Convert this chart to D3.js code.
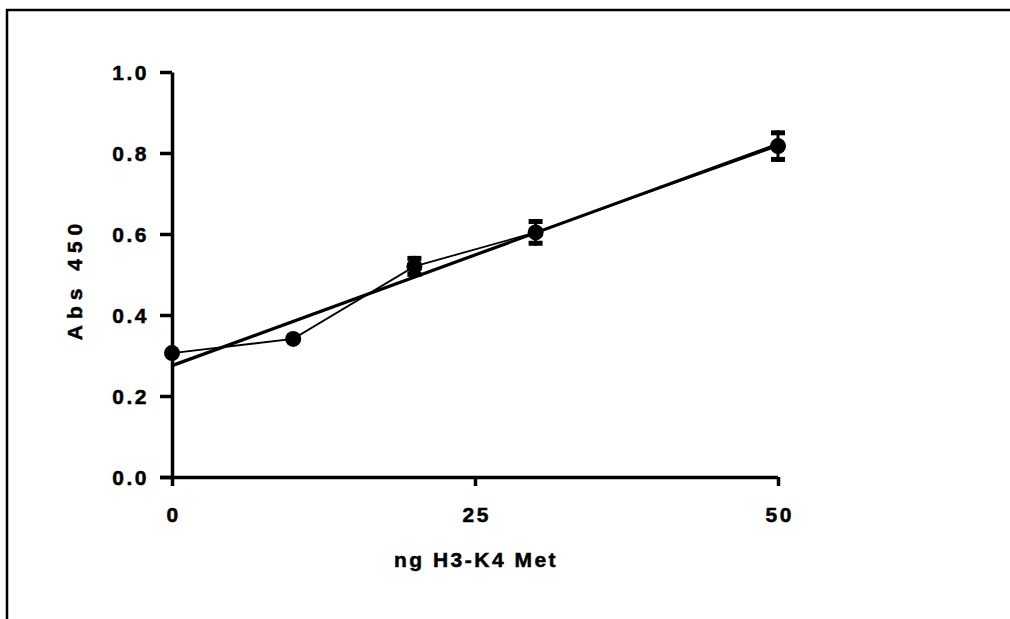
<!DOCTYPE html>
<html><head><meta charset="utf-8">
<script src="https://cdn.jsdelivr.net/npm/d3@7"></script>
<style>
body{margin:0;background:#fff;}
text{font-family:"Liberation Sans",Arial,sans-serif;font-weight:bold;fill:#000;stroke:#000;stroke-width:0.5px;}
</style></head>
<body>
<svg id="c" width="1010" height="619"></svg>
<script>
const xValues = [0, 10, 20, 30, 50];
const yValues = [0.306, 0.341, 0.52, 0.604, 0.817];
const yErrors = [0, 0, 0.026, 0.033, 0.039];
const xTicks = [0, 25, 50];
const yTicks = [0.0, 0.2, 0.4, 0.6, 0.8, 1.0];
const fitIntercept = 0.275;
const fitSlope = 0.01093;
const xTitle = "ng H3-K4 Met";
const yTitle = "Abs 450";

const svg = d3.select("#c");
// frame (top and left)
svg.append("path").attr("d","M7,619 V10 H1010").attr("fill","none").attr("stroke","#000").attr("stroke-width",2.5);

const x = d3.scaleLinear().domain([0,50]).range([172,778]);
const y = d3.scaleLinear().domain([0,1]).range([477,72]);

// y axis
const ya = svg.append("g").attr("transform","translate(172,0)")
  .call(d3.axisLeft(y).tickValues(yTicks).tickFormat(d3.format(".1f")).tickSize(12).tickPadding(11).tickSizeOuter(0));
ya.select(".domain").attr("stroke-width",3.5);
ya.selectAll(".tick line").attr("stroke-width",3.5);
ya.selectAll(".tick text").style("font-size","21px").style("letter-spacing","2.5px").attr("dy","0.36em");

// x axis
const xa = svg.append("g").attr("transform","translate(0,477)")
  .call(d3.axisBottom(x).tickValues(xTicks).tickSize(9).tickPadding(21).tickSizeOuter(0));
xa.select(".domain").attr("stroke-width",3.5).attr("d","M160,0.5H"+x(50));
xa.selectAll(".tick line").attr("stroke-width",3.5);
xa.selectAll(".tick text").style("font-size","21px").style("letter-spacing","2.5px").attr("dx","1.2px");

// titles
svg.append("text").attr("x",476).attr("y",567).attr("text-anchor","middle")
  .style("font-size","21px").style("letter-spacing","2.5px").text(xTitle);
svg.append("text").attr("transform","translate(82,279) rotate(-90)").attr("text-anchor","middle")
  .style("font-size","21px").style("letter-spacing","6px").text(yTitle);

// connecting line
const pts = xValues.map((d,i)=>[d,yValues[i],yErrors[i]]);
svg.append("path").datum(pts)
  .attr("d",d3.line().x(d=>x(d[0])).y(d=>y(d[1])))
  .attr("fill","none").attr("stroke","#000").attr("stroke-width",1.8);

// fit line
svg.append("line")
  .attr("x1",x(0)).attr("y1",y(fitIntercept))
  .attr("x2",x(50)).attr("y2",y(fitIntercept+fitSlope*50))
  .attr("stroke","#000").attr("stroke-width",3.2);

// error bars
const eb = svg.append("g");
pts.filter(d=>d[2]>0).forEach(d=>{
  const cx=x(d[0]);
  eb.append("line").attr("x1",cx).attr("x2",cx).attr("y1",y(d[1]+d[2])).attr("y2",y(d[1]-d[2])).attr("stroke","#000").attr("stroke-width",3);
  [d[1]+d[2], d[1]-d[2]].forEach(v=>{
    const yy=y(v);
    const dir = v>d[1]?1:-1;
    eb.append("rect").attr("x",cx-7).attr("width",14)
      .attr("y", dir>0?yy:yy-5).attr("height",5).attr("fill","#000");
  });
});

// markers
svg.append("g").selectAll("circle").data(pts).join("circle")
  .attr("cx",d=>x(d[0])).attr("cy",d=>y(d[1])).attr("r",8).attr("fill","#000");
</script>
</body></html>
